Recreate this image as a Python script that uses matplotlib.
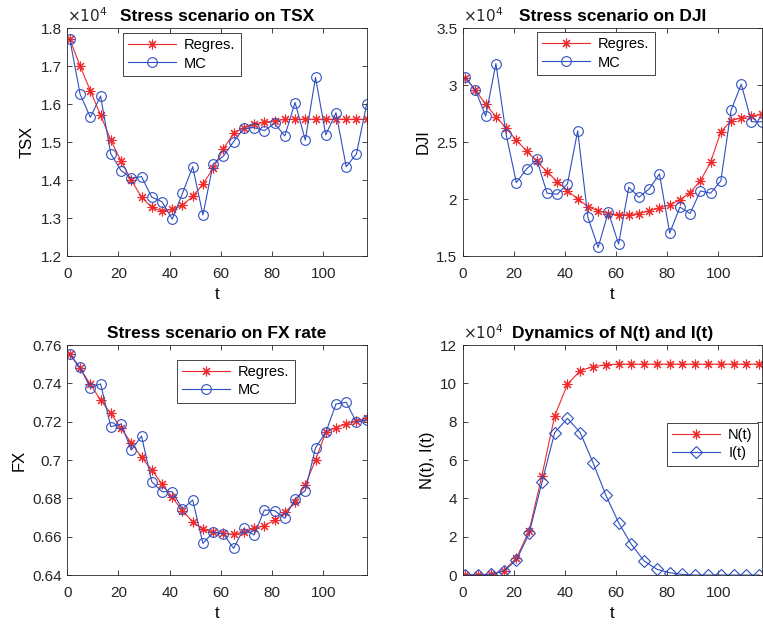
import numpy as np
import matplotlib
matplotlib.use("Agg")
import matplotlib.pyplot as plt
from matplotlib.ticker import FuncFormatter, MultipleLocator

plt.rcParams['font.family'] = ['Liberation Sans', 'DejaVu Sans']

# ---- time grids ----
t_market = np.arange(1, 118, 4)      # 1, 5, ..., 117
t_epi = np.arange(1, 117, 5)         # 1, 6, ..., 116

# ---- TSX scenario ----
tsx_regres = [17700, 17000, 16350, 15710, 15050, 14500, 14000, 13550, 13280, 13180,
              13230, 13330, 13570, 13890, 14310, 14820, 15230, 15380, 15470, 15520,
              15560, 15595, 15600, 15600, 15600, 15600, 15600, 15600, 15600, 15600]
tsx_mc = [17700, 16260, 15650, 16210, 14690, 14250, 14050, 14090, 13550, 13430,
          12970, 13650, 14350, 13080, 14420, 14630, 15010, 15360, 15380, 15300,
          15490, 15160, 16040, 15050, 16700, 15190, 15770, 14350, 14690, 16000]

# ---- DJI scenario ----
dji_regres = [30630, 29550, 28320, 27220, 26220, 25170, 24210, 23310, 22400, 21530,
              20740, 19990, 19340, 18970, 18730, 18620, 18620, 18730, 18970, 19200,
              19490, 19930, 20570, 21590, 23220, 25900, 26870, 27130, 27270, 27420]
dji_mc = [30660, 29550, 27270, 31880, 25670, 21440, 22640, 23480, 20510, 20420,
          21330, 25990, 18380, 15760, 18850, 16050, 21040, 20160, 20890, 22200,
          17010, 19290, 18730, 20710, 20510, 21590, 27770, 30070, 26780, 26780]

# ---- FX scenario ----
fx_regres = [0.7551, 0.7478, 0.7395, 0.7313, 0.7243, 0.7165, 0.7090, 0.7014, 0.6948, 0.6875,
             0.6805, 0.6736, 0.6678, 0.6638, 0.6623, 0.6617, 0.6612, 0.6623, 0.6643, 0.6657,
             0.6687, 0.6727, 0.6779, 0.6870, 0.7000, 0.7144, 0.7169, 0.7188, 0.7203, 0.7217]
fx_mc = [0.7551, 0.7483, 0.7377, 0.7397, 0.7174, 0.7188, 0.7052, 0.7125, 0.6887, 0.6835,
         0.6835, 0.6744, 0.6791, 0.6565, 0.6623, 0.6614, 0.6539, 0.6643, 0.6609, 0.6739,
         0.6736, 0.6696, 0.6797, 0.6840, 0.7064, 0.7144, 0.7292, 0.7301, 0.7197, 0.7209]

# ---- epidemic dynamics ----
n_t = [0, 0, 500, 2300, 8700, 23100, 51800, 83000, 99500, 106600,
       108700, 109700, 110000, 110000, 110000, 110000, 110000, 110000, 110000, 110000,
       110000, 110000, 110000, 110000]
i_t = [0, 0, 300, 2000, 7700, 21700, 48300, 74300, 81700, 74300,
       58600, 41700, 27300, 16000, 7300, 3000, 1200, 300, 0, 0,
       0, 0, 0, 0]

RED = '#f02a2a'
BLUE = '#2f4fc0'
DARK = '#262626'

fig = plt.figure(figsize=(7.63, 6.24), dpi=100)
positions = [
    [0.0882, 0.5897, 0.3924, 0.3654],
    [0.6064, 0.5897, 0.3919, 0.3654],
    [0.0882, 0.0785, 0.3924, 0.3686],
    [0.6064, 0.0785, 0.3919, 0.3686],
]
axes = [fig.add_axes(p) for p in positions]

asterisk = (8, 2, 0)


def style(ax, title, ylabel, ylim, ystep, sci=False):
    ax.set_xlim(0, 117)
    ax.set_ylim(*ylim)
    ax.xaxis.set_major_locator(MultipleLocator(20))
    ax.yaxis.set_major_locator(MultipleLocator(ystep))
    if sci:
        ax.yaxis.set_major_formatter(FuncFormatter(lambda v, _: f"{v / 1e4:g}"))
        ax.text(0.0, 1.012, r'$\times 10^{4}$', transform=ax.transAxes,
                ha='left', va='bottom', fontsize=11, color=DARK)
    else:
        ax.yaxis.set_major_formatter(FuncFormatter(lambda v, _: f"{v:g}"))
    ax.tick_params(direction='in', top=True, right=True, length=3.5, width=0.6,
                   labelsize=11, colors=DARK)
    ax.tick_params(axis='x', pad=8)
    ax.tick_params(axis='y', pad=4)
    for s in ax.spines.values():
        s.set_linewidth(0.6)
        s.set_color(DARK)
    ax.set_title(title, fontsize=12.5, fontweight='bold', pad=5)
    ax.set_xlabel('t', fontsize=12, labelpad=4)
    ax.set_ylabel(ylabel, fontsize=12, labelpad=4)


def legend(ax, anchor):
    leg = ax.legend(loc='upper left', bbox_to_anchor=anchor, borderaxespad=0,
                    fontsize=10.5, handlelength=3.3, handletextpad=0.55,
                    borderpad=0.35, labelspacing=0.3, fancybox=False,
                    framealpha=1, edgecolor=DARK)
    leg.get_frame().set_linewidth(0.6)


line_kw = dict(linewidth=0.8)

ax = axes[0]
ax.plot(t_market, tsx_regres, color=RED, marker=asterisk, markersize=7,
        markeredgewidth=0.8, label='Regres.', **line_kw)
ax.plot(t_market, tsx_mc, color=BLUE, marker='o', markersize=7, markerfacecolor='none',
        markeredgewidth=0.8, label='MC', **line_kw)
style(ax, 'Stress scenario on TSX', 'TSX', (12000, 18000), 1000, sci=True)
legend(ax, (0.186, 0.978))

ax = axes[1]
ax.plot(t_market, dji_regres, color=RED, marker=asterisk, markersize=7,
        markeredgewidth=0.8, label='Regres.', **line_kw)
ax.plot(t_market, dji_mc, color=BLUE, marker='o', markersize=7, markerfacecolor='none',
        markeredgewidth=0.8, label='MC', **line_kw)
style(ax, 'Stress scenario on DJI', 'DJI', (15000, 35000), 5000, sci=True)
legend(ax, (0.248, 0.982))

ax = axes[2]
ax.plot(t_market, fx_regres, color=RED, marker=asterisk, markersize=7,
        markeredgewidth=0.8, label='Regres.', **line_kw)
ax.plot(t_market, fx_mc, color=BLUE, marker='o', markersize=7, markerfacecolor='none',
        markeredgewidth=0.8, label='MC', **line_kw)
style(ax, 'Stress scenario on FX rate', 'FX', (0.64, 0.76), 0.02)
legend(ax, (0.366, 0.935))

ax = axes[3]
ax.plot(t_epi, n_t, color=RED, marker=asterisk, markersize=7,
        markeredgewidth=0.8, label='N(t)', **line_kw)
ax.plot(t_epi, i_t, color=BLUE, marker='D', markersize=6.5, markerfacecolor='none',
        markeredgewidth=0.8, label='I(t)', **line_kw)
style(ax, 'Dynamics of N(t) and I(t)', 'N(t), I(t)', (0, 120000), 20000, sci=True)
legend(ax, (0.683, 0.661))

fig.savefig('out.png', dpi=100)
